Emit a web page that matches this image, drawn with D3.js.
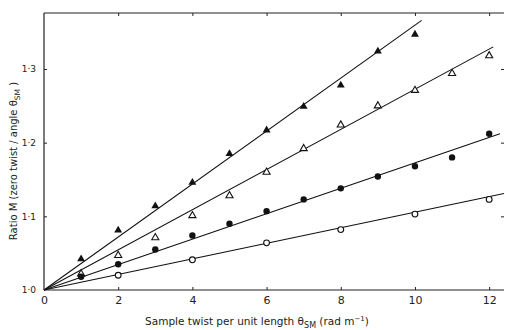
<!DOCTYPE html>
<html><head><meta charset="utf-8">
<script src="https://cdn.jsdelivr.net/npm/d3@7"></script>
<style>body{margin:0;background:#fff}svg{display:block}text{font-family:"DejaVu Sans","Lato",sans-serif;fill:#222}</style>
</head><body>
<script>
const xTicks = [0,2,4,6,8,10,12];
const yTicks = [1.0,1.1,1.2,1.3];
const yTickLabels = ["1·0","1·1","1·2","1·3"];

const filledTriX = [1,2,3,4,5,6,7,8,9,10];
const filledTriY = [1.042,1.081,1.114,1.146,1.185,1.217,1.249,1.278,1.324,1.347];
const openTriX = [1,2,3,4,5,6,7,8,9,10,11,12];
const openTriY = [1.022,1.047,1.071,1.101,1.128,1.160,1.192,1.224,1.250,1.271,1.294,1.318];
const filledCircX = [1,2,3,4,5,6,7,8,9,10,11,12];
const filledCircY = [1.018,1.035,1.055,1.074,1.090,1.107,1.123,1.138,1.154,1.168,1.180,1.212];
const openCircX = [2,4,6,8,10,12];
const openCircY = [1.020,1.041,1.064,1.082,1.103,1.123];

// fitted lines: [start, end] points
const lineFilledTri = [[0,1.0],[10.18,1.366]];
const lineOpenTri = [[0,1.0],[12.11,1.330]];
const lineFilledCirc = [[0,1.0],[12.29,1.212]];
const lineOpenCirc = [[0,1.0],[12.4,1.131]];

const W=505,H=330;
const FONT="DejaVu Sans, Lato, sans-serif";
const svg=d3.select("body").append("svg").attr("width",W).attr("height",H);
const x=d3.scaleLinear().domain([0,12.4]).range([44,504]);
const y=d3.scaleLinear().domain([1.0,1.376]).range([290,13]);

// frame
const g=svg.append("g");
g.append("line").attr("x1",x(0)).attr("x2",x(12.4)).attr("y1",y(1.0)).attr("y2",y(1.0)).attr("stroke","#222").attr("stroke-width",1.2);
g.append("line").attr("x1",x(0)).attr("x2",x(12.4)).attr("y1",y(1.376)).attr("y2",y(1.376)).attr("stroke","#222").attr("stroke-width",1.2);
g.append("line").attr("x1",x(0)).attr("x2",x(0)).attr("y1",y(1.0)).attr("y2",y(1.376)).attr("stroke","#222").attr("stroke-width",1.2);

// bottom axis ticks (inward) and labels
const xb=svg.append("g").attr("transform",`translate(0,${y(1.0)})`)
  .call(d3.axisBottom(x).tickValues(xTicks).tickSize(-3).tickPadding(6).tickFormat(d3.format("d")));
xb.select(".domain").remove();
xb.selectAll("line").attr("stroke","#222");
xb.selectAll("text").attr("font-size",11).style("font-family",FONT).attr("fill","#222");
xb.selectAll(".tick").filter(d=>d===0).select("line").remove();

// top ticks
const xt=svg.append("g").attr("transform",`translate(0,${y(1.376)})`)
  .call(d3.axisTop(x).tickValues(xTicks.filter(d=>d>0)).tickSize(-3).tickFormat(""));
xt.select(".domain").remove();
xt.selectAll("line").attr("stroke","#222");

// left axis
const yl=svg.append("g").attr("transform",`translate(${x(0)},0)`)
  .call(d3.axisLeft(y).tickValues(yTicks).tickSize(-3).tickPadding(8).tickFormat((d,i)=>yTickLabels[i]));
yl.select(".domain").remove();
yl.selectAll("line").attr("stroke","#222");
yl.selectAll("text").attr("font-size",9).style("font-family",FONT).attr("fill","#222");
yl.selectAll(".tick").filter(d=>d===1.0).select("line").remove();

// right ticks
const yr=svg.append("g").attr("transform",`translate(${x(12.4)},0)`)
  .call(d3.axisRight(y).tickValues(yTicks.filter(d=>d>1)).tickSize(-3).tickFormat(""));
yr.select(".domain").remove();
yr.selectAll("line").attr("stroke","#222");

// lines
const lg=d3.line().x(d=>x(d[0])).y(d=>y(d[1]));
[lineFilledTri,lineOpenTri,lineFilledCirc,lineOpenCirc].forEach(l=>{
  svg.append("path").attr("d",lg(l)).attr("fill","none").attr("stroke","#111").attr("stroke-width",1.1);
});

// markers
const triF=d3.symbol().type(d3.symbolTriangle).size(27);
const triO=d3.symbol().type(d3.symbolTriangle).size(22);
function pts(xs,ys){return xs.map((v,i)=>[v,ys[i]]);}
svg.append("g").selectAll("path").data(pts(filledTriX,filledTriY)).join("path")
  .attr("d",triF).attr("transform",d=>`translate(${x(d[0])},${y(d[1])})`).attr("fill","#111");
svg.append("g").selectAll("path").data(pts(openTriX,openTriY)).join("path")
  .attr("d",triO).attr("transform",d=>`translate(${x(d[0])},${y(d[1])})`).attr("fill","#fff").attr("stroke","#111").attr("stroke-width",1.1);
svg.append("g").selectAll("circle").data(pts(filledCircX,filledCircY)).join("circle")
  .attr("cx",d=>x(d[0])).attr("cy",d=>y(d[1])).attr("r",3.2).attr("fill","#111");
svg.append("g").selectAll("circle").data(pts(openCircX,openCircY)).join("circle")
  .attr("cx",d=>x(d[0])).attr("cy",d=>y(d[1])).attr("r",2.9).attr("fill","#fff").attr("stroke","#111").attr("stroke-width",1.1);

// axis titles
const xt2=svg.append("text").attr("x",257).attr("y",325).attr("text-anchor","middle").attr("font-size",10.5);
xt2.append("tspan").text("Sample  twist  per  unit  length  θ");
xt2.append("tspan").attr("font-size",8).attr("dy",3).text("SM");
xt2.append("tspan").attr("dy",-3).text("  (rad  m");
xt2.append("tspan").attr("font-size",7).attr("dy",-4).text("−1");
xt2.append("tspan").attr("dy",4).text(")");

const yt=svg.append("text").attr("transform","translate(17,161) rotate(-90)").attr("text-anchor","middle").attr("font-size",10);
yt.append("tspan").text("Ratio  M  (zero  twist / angle  θ");
yt.append("tspan").attr("font-size",7.5).attr("dy",3).text("SM");
yt.append("tspan").attr("dy",-3).text(" )");
</script>
</body></html>
